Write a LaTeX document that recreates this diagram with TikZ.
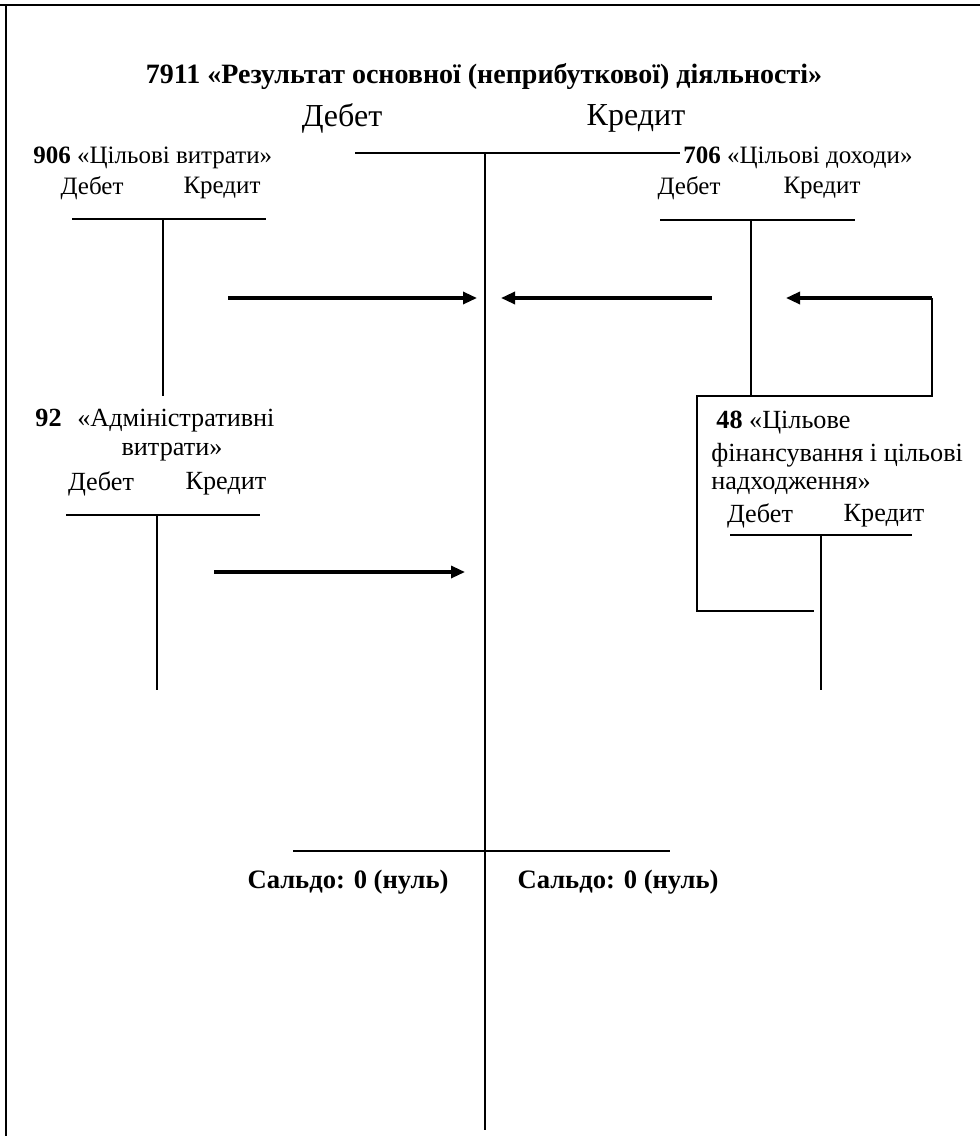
\documentclass[tikz,border=0pt]{standalone}
\usepackage{fontspec}
\setmainfont{Liberation Serif}
\usetikzlibrary{arrows.meta}

\tikzset{
  acct/.style={line width=0.7pt},
  flow/.style={line width=1.6pt, -{Triangle[length=7pt,width=6pt]}},
  lbl/.style={inner sep=0pt, font=\fontsize{12.5}{15.5}\selectfont},
  biglbl/.style={inner sep=0pt, font=\fontsize{13.1}{16}\selectfont},
  side/.style={inner sep=0pt, font=\fontsize{16}{19}\selectfont},
  saldo/.style={inner sep=0pt, font=\fontsize{13.3}{16}\selectfont\bfseries},
  ttl/.style={inner sep=0pt, font=\fontsize{14}{17}\selectfont\bfseries}
}

\begin{document}
\begin{tikzpicture}[x=0.5pt, y=-0.5pt]

\useasboundingbox (0,0) rectangle (980,1136);

% frame
\draw [acct] (0,5) -- (980,5);
\draw [acct] (6,5) -- (6,1136);

% main account 7911
\node [ttl] (title) at (484,76) {7911 «Результат основної (неприбуткової) діяльності»};
\node [side] (mdeb) at (342,118) {Дебет};
\node [side] (mkred) at (636,118) {Кредит};

\coordinate (ML) at (355,153);
\coordinate (MR) at (680,153);
\coordinate (MT) at (485,153);
\coordinate (MB) at (485,1130);
\draw [acct] (ML) -- (MR);
\draw [acct] (MT) -- (MB);

\coordinate (SL) at (293,851);
\coordinate (SR) at (670,851);
\draw [acct] (SL) -- (SR);

\node [saldo] (sdeb) at (348,882) {Сальдо: 0 (нуль)};
\node [saldo] (skred) at (618,882) {Сальдо: 0 (нуль)};

% 906
\node [lbl, anchor=west] (a906) at (33,158) {\textbf{906} «Цільові витрати»};
\node [lbl] (d906) at (92,188) {Дебет};
\node [lbl] (k906) at (222,188) {Кредит};
\coordinate (A1) at (72,219);
\coordinate (A2) at (266,219);
\coordinate (A3) at (163,219);
\coordinate (A4) at (163,396);
\draw [acct] (A1) -- (A2);
\draw [acct] (A3) -- (A4);

% 706
\node [lbl, anchor=west] (a706) at (683,158) {\textbf{706} «Цільові доходи»};
\node [lbl] (d706) at (689,188) {Дебет};
\node [lbl] (k706) at (822,188) {Кредит};
\coordinate (B1) at (660,220);
\coordinate (B2) at (855,220);
\coordinate (B3) at (751,220);
\coordinate (B4) at (751,396);
\draw [acct] (B1) -- (B2);
\draw [acct] (B3) -- (B4);

% 92
\node [biglbl, anchor=west] (a92) at (35,421) {\textbf{92}\hspace{0.6em}«Адміністративні};
\node [biglbl] (a92b) at (172,452) {витрати»};
\node [biglbl] (d92) at (101,484) {Дебет};
\node [biglbl] (k92) at (226,484) {Кредит};
\coordinate (C1) at (66,515);
\coordinate (C2) at (260,515);
\coordinate (C3) at (157,515);
\coordinate (C4) at (157,690);
\draw [acct] (C1) -- (C2);
\draw [acct] (C3) -- (C4);

% 48
\node [biglbl, anchor=west] (a48) at (716,423) {\textbf{48} «Цільове};
\node [biglbl, anchor=west] (a48b) at (711,455) {фінансування і цільові};
\node [biglbl, anchor=west] (a48c) at (711,486) {надходження»};
\node [biglbl] (d48) at (760,516) {Дебет};
\node [biglbl] (k48) at (884,516) {Кредит};
\coordinate (D1) at (730,535);
\coordinate (D2) at (912,535);
\coordinate (D3) at (821,535);
\coordinate (D4) at (821,690);
\draw [acct] (D1) -- (D2);
\draw [acct] (D3) -- (D4);

% bracket around 48
\coordinate (E1) at (932,298);
\coordinate (E2) at (932,396);
\coordinate (E3) at (697,396);
\coordinate (E4) at (697,611);
\coordinate (E5) at (814,611);
\draw [acct] (E1) -- (E2) -- (E3) -- (E4) -- (E5);

% flows
\coordinate (F1s) at (228,298);
\coordinate (F1e) at (477,298);
\coordinate (F2s) at (712,298);
\coordinate (F2e) at (501,298);
\coordinate (F3e) at (786,298);
\coordinate (F4s) at (214,572);
\coordinate (F4e) at (465,572);
\draw [flow] (F1s) -- (F1e);
\draw [flow] (F2s) -- (F2e);
\draw [flow] (E1) -- (F3e);
\draw [flow] (F4s) -- (F4e);

\end{tikzpicture}
\end{document}
